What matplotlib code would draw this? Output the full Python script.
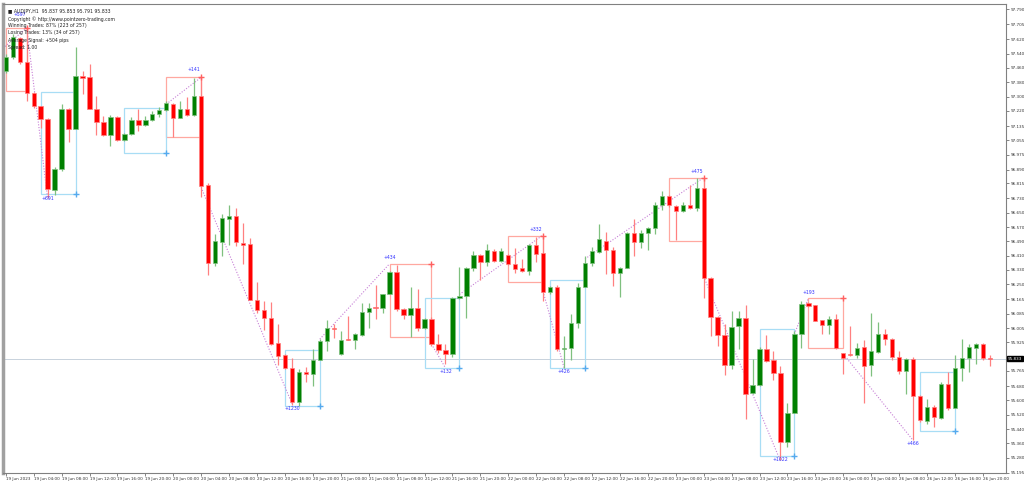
"""AUDJPY H1 signal chart, MT4 style."""
import numpy as np
import pandas as pd
import matplotlib
matplotlib.use("Agg")
import matplotlib.pyplot as plt
from matplotlib.patches import Rectangle

# ---- data ---------------------------------------------------------------
opens = [97.441, 97.524, 97.629, 97.491, 97.319, 97.247, 97.174, 96.775, 96.897, 97.230,
         97.119, 97.413, 97.408, 97.230, 97.158, 97.086, 97.186, 97.058, 97.091, 97.169,
         97.141, 97.169, 97.202, 97.224, 97.258, 97.180, 97.230, 97.197, 97.302, 96.803,
         96.370, 96.487, 96.614, 96.631, 96.481, 96.476, 96.160, 96.104, 96.060, 95.921,
         95.854, 95.782, 95.594, 95.760, 95.749, 95.827, 95.932, 96.004, 95.860, 95.943,
         95.938, 95.965, 96.093, 96.121, 96.115, 96.193, 96.320, 96.110, 96.076, 96.115,
         96.004, 96.054, 95.915, 95.882, 95.860, 96.171, 96.187, 96.342, 96.415, 96.376,
         96.437, 96.381, 96.415, 96.365, 96.342, 96.326, 96.470, 96.426, 96.209, 96.237,
         95.888, 95.893, 96.032, 96.232, 96.370, 96.431, 96.492, 96.442, 96.315, 96.342,
         96.537, 96.487, 96.537, 96.564, 96.692, 96.742, 96.686, 96.659, 96.692, 96.675,
         96.786, 96.287, 96.065, 95.965, 95.799, 96.015, 96.060, 95.644, 95.688, 95.888,
         95.827, 95.754, 95.366, 95.527, 95.971, 96.143, 96.132, 96.048, 96.021, 96.054,
         95.865, 95.860, 95.854, 95.899, 95.799, 95.871, 95.971, 95.943, 95.843, 95.766,
         95.832, 95.627, 95.483, 95.566, 95.499, 95.694, 95.555, 95.782, 95.838, 95.893,
         95.915, 95.837]
highs = [97.541, 97.652, 97.635, 97.685, 97.324, 97.247, 97.180, 96.908, 97.258, 97.236,
         97.580, 97.441, 97.480, 97.302, 97.191, 97.197, 97.191, 97.097, 97.186, 97.230,
         97.191, 97.219, 97.241, 97.274, 97.263, 97.274, 97.297, 97.402, 97.408, 96.814,
         96.531, 96.642, 96.692, 96.675, 96.592, 96.509, 96.265, 96.154, 96.148, 96.026,
         95.860, 95.838, 95.777, 95.788, 95.888, 95.943, 96.048, 96.026, 95.987, 96.071,
         95.976, 96.143, 96.143, 96.248, 96.198, 96.326, 96.359, 96.115, 96.237, 96.226,
         96.060, 96.065, 95.971, 95.915, 96.176, 96.348, 96.348, 96.437, 96.420, 96.476,
         96.448, 96.453, 96.420, 96.453, 96.392, 96.476, 96.514, 96.514, 96.243, 96.248,
         95.960, 96.082, 96.259, 96.409, 96.459, 96.587, 96.542, 96.459, 96.348, 96.542,
         96.614, 96.553, 96.570, 96.709, 96.770, 96.747, 96.692, 96.709, 96.808, 96.847,
         96.842, 96.293, 96.071, 96.026, 96.098, 96.098, 96.132, 95.832, 95.899, 95.965,
         95.877, 95.793, 95.588, 95.987, 96.154, 96.148, 96.132, 96.048, 96.071, 96.082,
         95.865, 96.015, 95.921, 95.938, 96.087, 96.037, 95.999, 95.949, 95.877, 95.838,
         95.843, 95.632, 95.610, 95.577, 95.705, 95.760, 95.854, 95.943, 95.915, 95.921,
         95.921, 95.853]
lows = [97.430, 97.513, 97.485, 97.274, 97.236, 97.125, 96.731, 96.747, 96.886, 97.047,
        97.119, 97.313, 97.230, 97.086, 97.080, 97.025, 97.052, 97.052, 97.086, 97.108,
        97.136, 97.163, 97.186, 97.219, 97.075, 97.180, 97.191, 97.191, 96.736, 96.304,
        96.354, 96.409, 96.470, 96.465, 96.365, 96.160, 96.087, 95.993, 95.910, 95.799,
        95.777, 95.577, 95.571, 95.705, 95.682, 95.827, 95.877, 95.949, 95.854, 95.938,
        95.888, 95.960, 96.004, 96.054, 96.087, 96.193, 96.098, 96.054, 95.954, 95.987,
        95.999, 95.904, 95.865, 95.804, 95.843, 96.165, 96.060, 96.326, 96.276, 96.354,
        96.376, 96.376, 96.359, 96.315, 96.320, 96.304, 96.376, 96.154, 96.198, 95.877,
        95.782, 95.827, 96.004, 96.232, 96.354, 96.426, 96.309, 96.243, 96.176, 96.342,
        96.409, 96.453, 96.442, 96.531, 96.664, 96.681, 96.498, 96.653, 96.670, 96.659,
        96.171, 95.960, 95.904, 95.743, 95.777, 95.888, 95.494, 95.638, 95.682, 95.815,
        95.716, 95.266, 95.339, 95.527, 95.893, 96.121, 96.043, 95.971, 95.971, 95.888,
        95.749, 95.849, 95.838, 95.588, 95.738, 95.865, 95.910, 95.827, 95.749, 95.638,
        95.377, 95.477, 95.466, 95.449, 95.494, 95.544, 95.555, 95.710, 95.760, 95.804,
        95.827, 95.791]
closes = [97.524, 97.635, 97.491, 97.319, 97.247, 97.174, 96.781, 96.897, 97.230, 97.119,
          97.413, 97.402, 97.230, 97.158, 97.086, 97.186, 97.058, 97.091, 97.169, 97.141,
          97.169, 97.202, 97.224, 97.263, 97.180, 97.230, 97.197, 97.302, 96.797, 96.370,
          96.492, 96.620, 96.631, 96.487, 96.470, 96.160, 96.104, 96.060, 95.915, 95.849,
          95.782, 95.594, 95.760, 95.749, 95.827, 95.932, 96.004, 95.999, 95.938, 95.936,
          95.971, 96.093, 96.115, 96.115, 96.193, 96.320, 96.110, 96.076, 96.115, 96.004,
          96.054, 95.915, 95.882, 95.860, 96.171, 96.187, 96.342, 96.415, 96.376, 96.442,
          96.381, 96.437, 96.365, 96.337, 96.326, 96.470, 96.420, 96.209, 96.237, 95.888,
          95.893, 96.032, 96.232, 96.370, 96.437, 96.503, 96.442, 96.315, 96.342, 96.537,
          96.487, 96.537, 96.564, 96.692, 96.742, 96.692, 96.659, 96.692, 96.675, 96.786,
          96.287, 96.065, 95.965, 95.799, 96.010, 96.060, 95.638, 95.688, 95.888, 95.821,
          95.754, 95.366, 95.527, 95.971, 96.137, 96.126, 96.043, 96.021, 96.054, 95.893,
          95.838, 95.854, 95.893, 95.793, 95.877, 95.971, 95.943, 95.843, 95.766, 95.832,
          95.627, 95.488, 95.566, 95.505, 95.694, 95.555, 95.782, 95.838, 95.899, 95.915,
          95.838, 95.833]

# signal boxes: start bar, end bar, top, bottom
sell_start = [0, 23, 55, 72, 95, 115]
sell_end = [3, 28, 61, 77, 100, 120]
sell_top = [97.685, 97.408, 96.365, 96.520, 96.847, 96.171]
sell_bot = [97.330, 97.075, 95.954, 96.265, 96.492, 95.893]
buy_start = [5, 17, 40, 60, 78, 108, 131]
buy_end = [10, 23, 45, 65, 83, 113, 136]
buy_top = [97.324, 97.236, 95.882, 96.171, 96.276, 95.999, 95.760]
buy_bot = [96.753, 96.986, 95.571, 95.782, 95.782, 95.289, 95.427]

# profit labels: bar, price, text
lab_bar = [2, 6, 27, 41, 55, 63, 76, 80, 99, 111, 115, 130]
lab_price = [97.76, 96.73, 97.45, 95.555, 96.40, 95.762, 96.555, 95.762, 96.88, 95.27, 96.205, 95.36]
lab_text = ["+597", "+691", "+141", "+1230", "+434", "+132", "+332", "+426", "+475", "+1022", "+193", "+466"]

# dotted signal paths: (bar0, price0, bar1, price1)
path_b0 = [-0.4, 3, 23, 28, 45, 61, 65, 77, 83, 100, 113, 120]
path_p0 = [97.57, 97.685, 97.258, 96.792, 95.943, 95.915, 96.193, 96.209, 96.392, 96.293, 95.971, 95.860]
path_b1 = [3, 6, 28, 41, 55, 63, 77, 80, 100, 111, 115, 130]
path_p1 = [97.685, 96.731, 97.408, 95.583, 96.365, 95.782, 96.526, 95.782, 96.847, 95.261, 96.171, 95.377]

price_ticks = [97.790, 97.705, 97.620, 97.540, 97.460, 97.380, 97.300, 97.220, 97.135,
               97.055, 96.975, 96.890, 96.815, 96.730, 96.650, 96.570, 96.490, 96.410,
               96.330, 96.250, 96.165, 96.085, 96.005, 95.925, 95.765, 95.680,
               95.600, 95.520, 95.440, 95.360, 95.280, 95.195]
last_price = 95.833

header = ["AUDJPY,H1  95.837 95.853 95.791 95.833",
          "Copyright \u00a9 http://www.pointzero-trading.com",
          "Winning Trades: 87% (223 of 257)",
          "Losing Trades: 13% (34 of 257)",
          "Average Signal: +504 pips",
          "Spread: 1.00"]

times = pd.date_range("2023-06-19 00:00", "2023-06-26 21:00", freq="h")
times = times[times.dayofweek < 5]

# ---- plot -----------------------------------------------------------------
GREEN, RED = "#008000", "#FF0000"
GWICK, RWICK = "#7FC07F", "#FF8080"
SELLBOX, BUYBOX = "#FFA8A0", "#A8DDF5"
FS = 3.0

plt.rcParams["font.family"] = ["DejaVu Sans"]
fig = plt.figure(figsize=(10.24, 4.84), dpi=100)
ax = fig.add_axes([0.003, 11 / 484, 1003 / 1024, 469 / 484])

o, h, l, c = map(np.array, (opens, highs, lows, closes))
x = np.arange(len(o))
up = c >= o
ax.vlines(x[up], l[up], h[up], color=GWICK, lw=0.9, zorder=2)
ax.vlines(x[~up], l[~up], h[~up], color=RWICK, lw=0.9, zorder=2)
body = np.maximum(np.abs(c - o), 0.006)
ax.bar(x, body, bottom=np.minimum(o, c), width=0.62,
       color=np.where(up, GREEN, RED), edgecolor=np.where(up, GWICK, RWICK),
       linewidth=0.5, zorder=3)

for s, e, t, b in zip(sell_start, sell_end, sell_top, sell_bot):
    ax.add_patch(Rectangle((s, b), e - s, t - b, fill=False, ec=SELLBOX, lw=0.9, zorder=1))
    ax.plot(e, t, "+", color="#FF6060", ms=4, mew=1, zorder=4)
for s, e, t, b in zip(buy_start, buy_end, buy_top, buy_bot):
    ax.add_patch(Rectangle((s, b), e - s, t - b, fill=False, ec=BUYBOX, lw=0.9, zorder=1))
    ax.plot(e, b, "+", color="#55AAEE", ms=4, mew=1, zorder=4)
for b0, p0, b1, p1 in zip(path_b0, path_p0, path_b1, path_p1):
    ax.plot([b0, b1], [p0, p1], ls=(0, (1, 1.5)), color="#C77FD6", lw=0.8, zorder=1)
for b, p, t in zip(lab_bar, lab_price, lab_text):
    ax.text(b, p, t, fontsize=FS + 0.3, color="#3030FF", ha="center", va="center", zorder=5)

ax.axhline(last_price, color="#C8D2DC", lw=0.7, zorder=0)

ax.set_xlim(-0.386, 143.33)
ax.set_ylim(95.194, 97.818)
ax.yaxis.tick_right()
ax.set_yticks(price_ticks)
ax.set_yticklabels([f"{v:.3f}" for v in price_ticks], fontsize=FS, color="#333333")
ticks = x[::4]
ax.set_xticks(ticks)
xl = [times[i].strftime("%d %b %H:%M") for i in ticks]
xl[0] = "19 Jun 2023"
ax.set_xticklabels(xl, fontsize=FS, color="#333333", ha="left")
ax.tick_params(length=2, width=0.5, pad=1.2, colors="#555555", labelcolor="#333333")
for sp in ax.spines.values():
    sp.set_color("#808080")
    sp.set_linewidth(0.8)
ax.spines["left"].set_linewidth(2.5)
ax.spines["left"].set_color("#A0A0A0")

ax.text(1.002, last_price, f"{last_price:.3f}", transform=ax.get_yaxis_transform(),
        fontsize=FS, color="white", va="center", ha="left",
        bbox=dict(boxstyle="square,pad=0.15", fc="black", ec="black"), zorder=6)

for k, line in enumerate(header):
    ax.text(0.005, 0.99 - k * 0.0155, ("\u25a0 " if k == 0 else "") + line,
            transform=ax.transAxes, fontsize=FS + 0.3, color="#222222", va="top", ha="left", zorder=6)

fig.savefig("out.png", dpi=100)
